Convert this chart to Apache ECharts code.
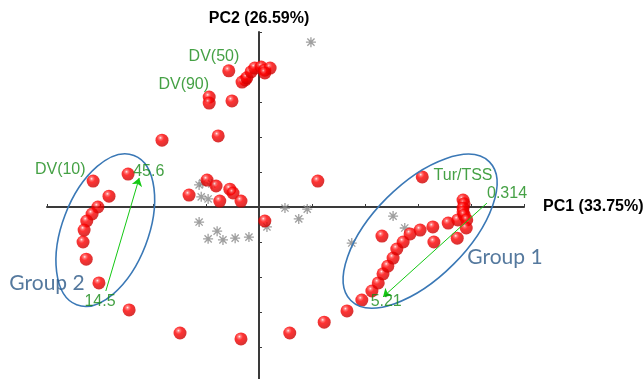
<!DOCTYPE html>
<html>
<head>
<meta charset="utf-8">
<script src="https://cdn.jsdelivr.net/npm/echarts@6/dist/echarts.min.js"></script>
<style>
  html, body { margin: 0; padding: 0; background: #fff; }
  #chart { width: 643px; height: 379px; }
</style>
</head>
<body>
<div id="chart"></div>
<script>
// PCA score plot: samples on PC1/PC2 with variable loadings and two sample groups.

// Sample scores [PC1, PC2] – red samples
const redScores = [
  [-0.57, 3.89], [-0.26, 3.63], [-0.32, 3.57], [-0.23, 3.69], [-0.15, 3.86],
  [-0.08, 3.97], [0.04, 4.00], [0.11, 3.91], [0.21, 3.97], [0.11, 3.83],
  [-0.94, 3.14], [-0.94, 2.97], [-0.51, 3.03], [-1.83, 1.91], [-0.77, 2.03],
  [-3.13, 0.74], [-2.47, 0.94], [1.11, 0.74],
  [-0.98, 0.77], [-0.81, 0.60], [-1.32, 0.34], [-0.55, 0.51], [-0.49, 0.40],
  [-0.74, 0.17], [-0.34, 0.17], [0.11, -0.40],
  [-2.83, 0.31], [-3.04, 0.00], [-3.15, -0.20], [-3.25, -0.40], [-3.30, -0.66],
  [-3.32, -1.00], [-3.26, -1.49], [-3.02, -2.17], [-2.45, -2.94],
  [-1.49, -3.60], [-0.34, -3.77], [0.58, -3.60], [1.23, -3.29], [1.66, -2.97],
  [3.08, 0.86], [1.94, -2.66], [2.13, -2.40], [2.25, -2.17], [2.34, -1.91],
  [2.43, -1.69], [2.53, -1.46], [2.60, -1.20], [2.72, -1.00], [2.85, -0.77],
  [3.04, -0.66], [3.28, -0.57], [3.57, -0.46], [3.75, -0.37],
  [3.85, 0.20], [3.87, 0.09], [3.85, -0.03], [3.85, -0.14], [3.87, -0.23],
  [3.92, -0.37], [3.91, -0.60], [3.74, -0.89], [3.30, -1.00], [2.32, -0.83]
];

// Sample scores [PC1, PC2] – grey samples
const greyScores = [
  [0.98, 4.71], [-1.13, 0.63], [-1.06, 0.69], [-0.89, 0.66], [-1.09, 0.29],
  [-0.96, 0.23], [-1.13, -0.43], [-0.79, -0.69], [-0.96, -0.91], [-0.68, -0.94],
  [-0.45, -0.89], [-0.19, -0.86], [0.15, -0.57], [0.49, -0.03], [0.91, -0.06],
  [0.75, -0.34], [2.53, -0.26], [2.75, -0.60], [1.75, -1.03]
];

// Variable annotations and where they sit in score space
const varLabels = ['DV(50)', 'DV(90)', 'DV(10)', '45.6', 'Tur/TSS', '0.314', '5.21', '14.5'];
const varLabelAt = [
  [-0.85, 4.29], [-1.42, 3.51], [-3.75, 1.06], [-2.08, 1.00],
  [3.85, 0.89], [4.68, 0.37], [2.40, -2.71], [-3.00, -2.71]
];

// Gradient arrows: [from, to]
const arrowFrom = [[-2.89, -2.40], [4.30, 0.11]];
const arrowTo = [[-2.26, 0.83], [2.34, -2.57]];

// Sample groups
const groupNames = ['Group 1', 'Group 2'];
const groupLabelAt = [[4.64, -1.43], [-4.00, -2.17]];
const groupCenters = [[3.04, -0.69], [-2.90, -0.66]];

// Axis ranges
const pc1Range = [-4, 5];
const pc2Range = [-5, 5];

// Ellipse outlines (pixel radii, tilt in degrees)
const ellipseStyle = [
  { rx: 98, ry: 47, tilt: 45 },
  { rx: 80, ry: 43, tilt: 69 }
];

const redBall = {
  type: 'radial', x: 0.38, y: 0.32, r: 0.68,
  colorStops: [
    { offset: 0, color: '#fff0f0' },
    { offset: 0.16, color: '#ff5a5a' },
    { offset: 0.4, color: '#ff0000' },
    { offset: 1, color: '#cc0000' }
  ]
};

const asterisk = 'path://M0,-5L0,5M-5,0L5,0M-3.6,-3.6L3.6,3.6M-3.6,3.6L3.6,-3.6';

const chart = echarts.init(document.getElementById('chart'));

const axisCommon = {
  type: 'value',
  axisLine: { onZero: true, lineStyle: { color: '#3a3a3a', width: 2 } },
  axisTick: { show: true, inside: true, length: 3, lineStyle: { color: '#3a3a3a', width: 1 } },
  axisLabel: { show: false },
  splitLine: { show: false },
  nameTextStyle: { fontFamily: 'Liberation Sans, Arial', fontWeight: 'bold', fontSize: 16, color: '#000' }
};

chart.setOption({
  animation: false,
  backgroundColor: '#fff',
  grid: { left: 47, right: 119, top: 32, bottom: -3, containLabel: false, outerBoundsMode: 'none' },
  xAxis: Object.assign({}, axisCommon, {
    min: pc1Range[0], max: pc1Range[1], interval: 1,
    name: 'PC1 (33.75%)', nameLocation: 'end', nameGap: 19
  }),
  yAxis: Object.assign({}, axisCommon, {
    min: pc2Range[0], max: pc2Range[1], interval: 1,
    name: 'PC2 (26.59%)', nameLocation: 'end', nameGap: 5
  }),
  series: [
    {
      name: 'grey', type: 'scatter', silent: true, z: 2,
      symbol: asterisk, symbolSize: 10,
      itemStyle: { color: 'rgba(0,0,0,0)', borderColor: '#878787', borderWidth: 1.3 },
      data: greyScores
    },
    {
      name: 'red', type: 'scatter', silent: true, z: 3,
      symbol: 'circle', symbolSize: 13,
      itemStyle: { color: redBall },
      data: redScores
    },
    {
      name: 'groups', type: 'custom', silent: true, z: 4,
      coordinateSystem: 'cartesian2d',
      renderItem: function (params, api) {
        const c = api.coord([api.value(0), api.value(1)]);
        const s = ellipseStyle[params.dataIndex];
        return {
          type: 'ellipse',
          x: c[0], y: c[1],
          rotation: s.tilt * Math.PI / 180,
          shape: { cx: 0, cy: 0, rx: s.rx, ry: s.ry },
          style: { fill: 'none', stroke: '#3a78b6', lineWidth: 1.6 }
        };
      },
      data: groupCenters
    },
    {
      name: 'groupLabels', type: 'scatter', silent: true, z: 5, clip: false,
      symbolSize: 0,
      label: {
        show: true, position: 'inside', formatter: '{b}',
        color: '#2a5886', fontSize: 21, fontFamily: 'Lato, Noto Sans'
      },
      data: groupNames.map((n, i) => ({ name: n, value: groupLabelAt[i] }))
    },
    {
      name: 'variables', type: 'scatter', silent: true, z: 6, clip: false,
      symbolSize: 0,
      label: {
        show: true, position: 'inside', formatter: '{b}',
        color: '#168a16', fontSize: 16, fontFamily: 'Liberation Sans, Arial'
      },
      data: varLabels.map((n, i) => ({ name: n, value: varLabelAt[i] })),
      markLine: {
        silent: true,
        symbol: ['none', 'arrow'],
        symbolSize: 8,
        label: { show: false },
        lineStyle: { color: '#14c814', width: 1, type: 'solid' },
        data: arrowFrom.map((p, i) => [{ coord: p }, { coord: arrowTo[i] }])
      }
    }
  ]
});
</script>
</body>
</html>
